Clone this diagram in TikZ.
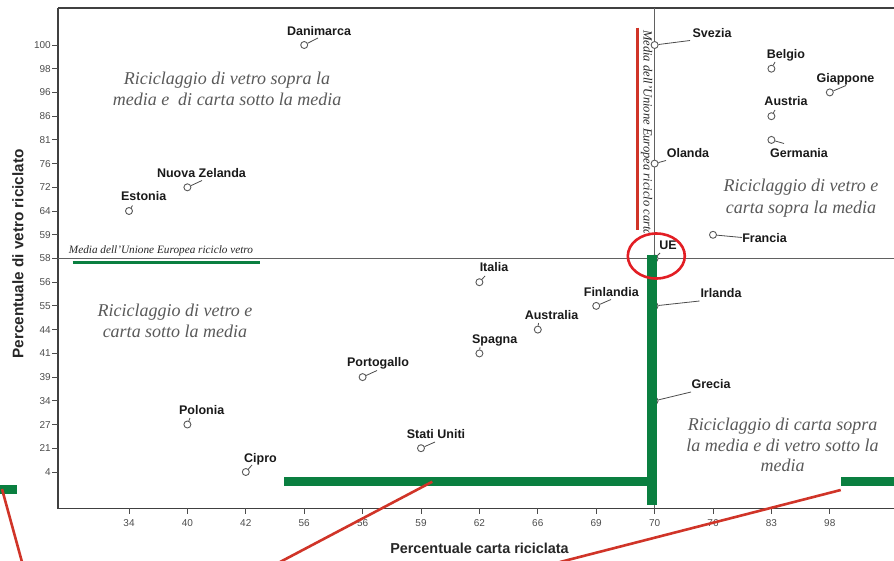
\documentclass[tikz,border=0pt]{standalone}
\usepackage{fontspec}
\setmainfont{Liberation Serif}
\newfontfamily\sansf{Liberation Sans}
\definecolor{egreen}{RGB}{10,127,64}
\definecolor{ered}{RGB}{208,52,40}
\definecolor{ered2}{RGB}{226,30,36}
\begin{document}
\begin{tikzpicture}[x=1pt,y=-1pt,
  axis/.style={draw=black!75, line width=1.3pt},
  refline/.style={draw=black!62, line width=1pt},
  tickmark/.style={draw=black!70, line width=0.9pt},
  ticklab/.style={font=\sansf\fontsize{10}{12}\selectfont, text=black!70, inner sep=0pt},
  pt/.style={circle, draw=black!65, fill=white, line width=0.9pt, minimum size=7pt, inner sep=0pt},
  leader/.style={draw=black!70, line width=0.8pt},
  country/.style={font=\sansf\bfseries\fontsize{12.5}{14}\selectfont, text=black!90, inner sep=0pt, anchor=base},
  quad/.style={font=\itshape\fontsize{18}{21.5}\selectfont, text=black!65, align=center, inner sep=0pt},
  meanlab/.style={font=\itshape\fontsize{11.25}{13}\selectfont, text=black!85, inner sep=0pt},
  meanlabv/.style={font=\itshape\fontsize{12.5}{14}\selectfont, text=black!85, inner sep=0pt},
  axtitle/.style={font=\sansf\bfseries, text=black!85, inner sep=0pt},
  greenbar/.style={fill=egreen, draw=none},
  redline/.style={draw=ered, line width=2.6pt},
]
\useasboundingbox (0,0) rectangle (894,560);
\clip (0,0) rectangle (894,560);

% frame
\draw[axis] (58,8) -- (894,8);
\draw[axis] (58,8) -- (58,508.3) -- (894,508.3);

% y ticks
\foreach \lab [count=\i from 0] in {100,98,96,86,81,76,72,64,59,58,56,55,44,41,39,34,27,21,4} {
  \pgfmathsetmacro\yy{45+23.72*\i}
  \draw[tickmark] (52,\yy) -- (58,\yy);
  \node[ticklab, anchor=east] (yt\i) at (51,\yy) {\lab};
}
% x ticks
\foreach \lab [count=\j from 0] in {34,40,42,56,56,59,62,66,69,70,76,83,98} {
  \pgfmathsetmacro\xx{129+58.4*\j}
  \draw[tickmark] (\xx,508.3) -- (\xx,514);
  \node[ticklab] (xt\j) at (\xx,523) {\lab};
}

% mean reference lines
\draw[refline] (58,258.5) -- (894,258.5);
\draw[refline] (654.6,8) -- (654.6,508.3);

% axis titles
\node[axtitle, font=\sansf\bfseries\fontsize{14.4}{16}\selectfont] (xtitle) at (479.5,548.5) {Percentuale carta riciclata};
\node[axtitle, font=\sansf\bfseries\fontsize{15.3}{17}\selectfont, rotate=90] (ytitle) at (18,254) {Percentuale di vetro riciclato};

% quadrant texts
\node[quad] (q1) at (227,89) {Riciclaggio di vetro sopra la\\media e\ \ di carta sotto la media};
\node[quad] (q2) at (801,198) {Riciclaggio di vetro e\\carta sopra la media};
\node[quad] (q3) at (175,321) {Riciclaggio di vetro e\\carta sotto la media};
\node[quad, font=\itshape\fontsize{18}{20.3}\selectfont] (q4) at (782.5,445) {Riciclaggio di carta sopra\\la media e di vetro sotto la\\media};

% mean labels
\node[meanlab] (mv) at (161,251) {Media dell'Unione Europea riciclo vetro};
\begin{scope}
  \clip (600,0) rectangle (700,232.5);
  \node[meanlabv, rotate=-90, anchor=west] (mc) at (646.5,30) {Media dell'Unione Europea riciclo carta};
\end{scope}

% data points: name / point / leader end / label baseline
\foreach \nm/\px/\py/\ex/\ey/\lx/\ly/\txt in {
  dan/304.2/45/318/38/319/35/Danimarca,
  nz/187.4/187.3/202/180.5/201.5/177.5/Nuova Zelanda,
  est/129/211/132.5/205.5/143.7/200.5/Estonia,
  sve/654.6/45/690/40.5/712/37.5/Svezia,
  bel/771.4/68.7/775/62/786/58.5/Belgio,
  gia/829.8/92.4/846/85.5/845.5/82.5/Giappone,
  aus/771.4/116.2/775/110/786/105.5/Austria,
  ger/771.4/139.9/784/143.5/799/157.5/Germania,
  ola/654.6/163.6/666/160.5/688/157.5/Olanda,
  fra/713/234.8/742/237.5/764.5/242.5/Francia,
  ue/654.6/258.5/660/253/668/249.5/UE,
  ita/479.4/282.2/485/276/494/271.5/Italia,
  fin/596.2/305.9/611/299.5/611.3/296.5/Finlandia,
  aut/537.8/329.6/538.5/323/551.5/319/Australia,
  spa/479.4/353.4/480/347/494.7/343.5/Spagna,
  por/362.6/377.1/377/370.5/378/366.5/Portogallo,
  pol/187.4/424.5/190/418/201.7/414/Polonia,
  cip/245.8/472/252/465/260.5/462/Cipro,
  usa/421/448.2/435/442/436/438/Stati Uniti,
  irl/654.6/305.9/699.5/301/721/297.5/Irlanda,
  gre/654.6/400.8/691/392/711/388.5/Grecia} {
  \node[pt] (p-\nm) at (\px,\py) {};
  \coordinate (e-\nm) at (\ex,\ey);
  \draw[leader] (p-\nm) -- (e-\nm);
  \node[country] (l-\nm) at (\lx,\ly) {\txt};
}

% green highlights
\fill[greenbar] (647.3,255) rectangle (657.3,505);
\fill[greenbar] (284,477.3) rectangle (657.3,486);
\fill[greenbar] (840.7,477.3) rectangle (894,486);
\fill[greenbar] (0,485) rectangle (17.3,494.3);
\draw[egreen, line width=3pt] (72.7,262.5) -- (260,262.5);

% red annotations
\draw[redline] (637.3,27.7) -- (637.3,230);
\draw[ered2, line width=2.6pt] (656.3,256) ellipse [x radius=28.5, y radius=22.5];
\coordinate (r1a) at (2,489);
\coordinate (r1b) at (22,562);
\coordinate (r2a) at (432.3,481.7);
\coordinate (r2b) at (280,562);
\coordinate (r3a) at (840.7,490);
\coordinate (r3b) at (560,562);
\draw[redline] (r1a) -- (r1b);
\draw[redline] (r2a) -- (r2b);
\draw[redline] (r3a) -- (r3b);
\end{tikzpicture}
\end{document}
